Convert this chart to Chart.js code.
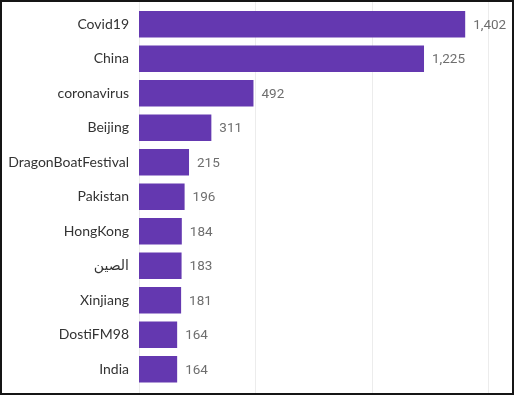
<!DOCTYPE html>
<html>
<head>
<meta charset="utf-8">
<script src="https://cdn.jsdelivr.net/npm/chart.js@4"></script>
<style>
  html, body { margin: 0; padding: 0; background: #fff; }
  #wrap { position: relative; width: 516px; height: 396px; }
  canvas { position: absolute; left: 0; top: 0; }
  #frame { position: absolute; left: 0; top: 0; width: 514px; height: 395px; border: 2px solid #151515; box-sizing: border-box; pointer-events: none; }
</style>
</head>
<body>
<div id="wrap">
  <canvas id="c" width="516" height="396"></canvas>
  <div id="frame"></div>
</div>
<script>
const categories = ["Covid19", "China", "coronavirus", "Beijing", "DragonBoatFestival", "Pakistan", "HongKong", "الصين", "Xinjiang", "DostiFM98", "India"];
const counts = [1402, 1225, 492, 311, 215, 196, 184, 183, 181, 164, 164];
const gridTicks = [0, 500, 1000, 1500];

const gridPlugin = {
  id: 'fullGrid',
  beforeDatasetsDraw(chart) {
    const ctx = chart.ctx, xs = chart.scales.x;
    ctx.save();
    ctx.strokeStyle = '#ececec';
    ctx.lineWidth = 1;
    gridTicks.forEach(v => {
      const x = Math.round(xs.getPixelForValue(v)) + 0.5;
      ctx.beginPath();
      ctx.moveTo(x, 2);
      ctx.lineTo(x, 393);
      ctx.stroke();
    });
    ctx.restore();
  }
};

const valuePlugin = {
  id: 'valueLabels',
  afterDatasetsDraw(chart) {
    const ctx = chart.ctx;
    const meta = chart.getDatasetMeta(0);
    ctx.save();
    ctx.fillStyle = '#6e6e6e';
    ctx.font = '13.5px "Roboto", "DejaVu Sans", sans-serif';
    ctx.textAlign = 'left';
    ctx.textBaseline = 'middle';
    meta.data.forEach((bar, i) => {
      ctx.fillText(counts[i].toLocaleString('en-US'), bar.x + 8, bar.y + 1);
    });
    ctx.restore();
  }
};

new Chart(document.getElementById('c'), {
  type: 'bar',
  data: {
    labels: categories,
    datasets: [{
      data: counts,
      backgroundColor: '#6438b0',
      borderWidth: 0,
      categoryPercentage: 1,
      barPercentage: 0.77
    }]
  },
  options: {
    indexAxis: 'y',
    responsive: false,
    animation: false,
    layout: { padding: { left: 0, right: 28, top: 7, bottom: 9.5 } },
    plugins: { legend: { display: false }, tooltip: { enabled: false } },
    scales: {
      x: { display: false, min: 0, max: 1500 },
      y: {
        grid: { display: false, drawTicks: false },
        border: { display: false },
        ticks: {
          color: '#333333',
          padding: 10,
          font: { family: 'Lato, "DejaVu Sans", sans-serif', size: 14 }
        },
        afterFit(scale) { scale.width = 139; scale.paddingTop = 0; scale.paddingBottom = 0; }
      }
    }
  },
  plugins: [gridPlugin, valuePlugin]
});
</script>
</body>
</html>
